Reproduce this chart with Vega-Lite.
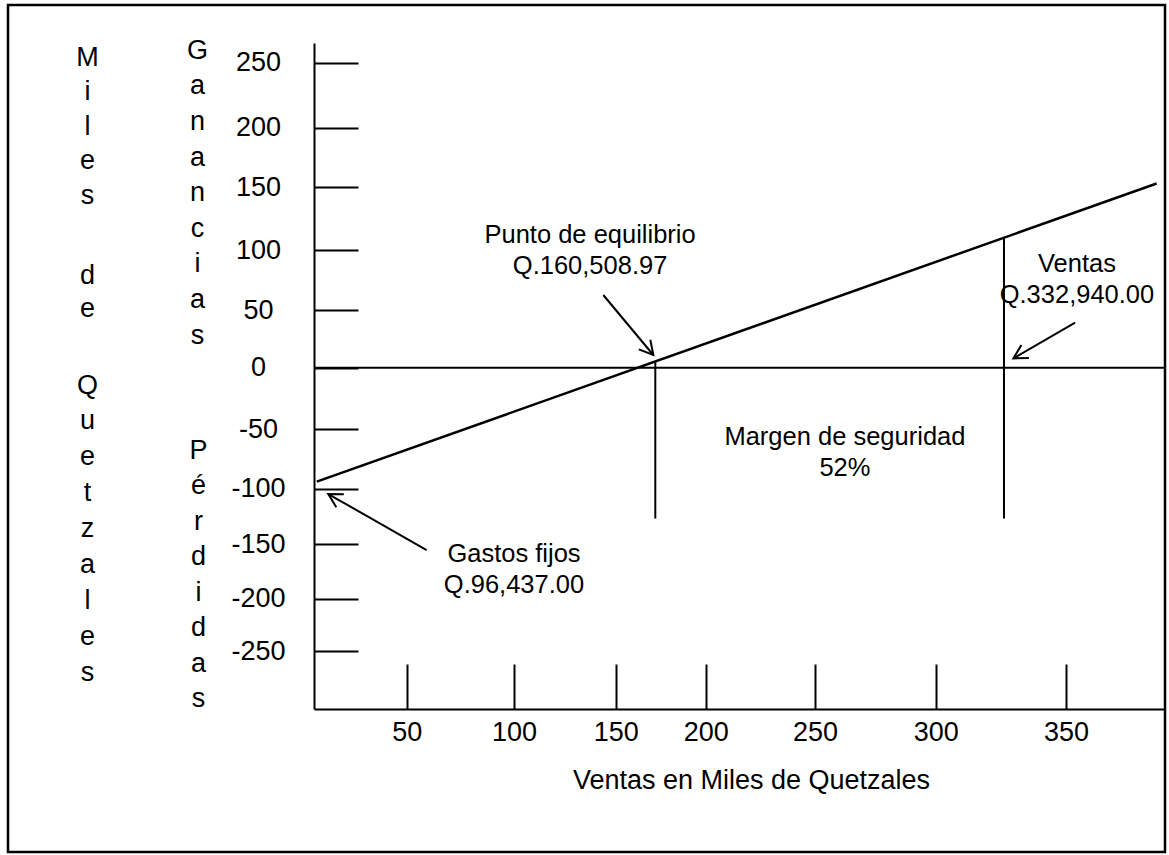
{
  "$schema": "https://vega.github.io/schema/vega-lite/v6.json",
  "width": 1157,
  "height": 847,
  "autosize": {"type": "none"},
  "padding": {"left": 8, "top": 5, "right": 4, "bottom": 3},
  "background": "white",
  "config": {
    "font": "Liberation Sans",
    "view": {"stroke": "black", "strokeWidth": 2.5},
    "axis": {"grid": false}
  },
  "datasets": {
    "recta": [
      {"ventas": 1.5, "resultado": -94.1},
      {"ventas": 384.8, "resultado": 153.2}
    ],
    "cero": [
      {"ventas": 0, "ventas_fin": 388, "resultado": 0}
    ],
    "verticales": [
      {"ventas": 172, "desde": 5.4, "hasta": -127},
      {"ventas": 326.2, "desde": 110, "hasta": -127}
    ],
    "flechas": [
      {"nota": "equilibrio", "x0": 143.9, "y0": 62.5, "x1": 170.9, "y1": 11.0},
      {"nota": "ventas", "x0": 353.5, "y0": 39.0, "x1": 329.8, "y1": 8.1},
      {"nota": "gastos", "x0": 59.3, "y0": -155.5, "x1": 7.7, "y1": -104.8}
    ],
    "notas": [
      {"texto": "Punto de equilibrio\nQ.160,508.97", "ventas": 137.4, "resultado": 105.3},
      {"texto": "Ventas\nQ.332,940.00", "ventas": 354.2, "resultado": 81.9},
      {"texto": "Margen de seguridad\n52%", "ventas": 262.4, "resultado": -63.4},
      {"texto": "Gastos fijos\nQ.96,437.00", "ventas": 100, "resultado": -166.2}
    ]
  },
  "resolve": {"axis": {"x": "independent", "y": "independent"}},
  "layer": [
    {
      "data": {"name": "recta"},
      "mark": {"type": "line", "color": "black", "strokeWidth": 2.5},
      "encoding": {
        "x": {
          "field": "ventas",
          "type": "quantitative",
          "scale": {
            "domain": [0, 50, 100, 150, 200, 250, 300, 350, 388],
            "range": [306, 398.7, 506, 607.7, 697.7, 807, 927.7, 1058, 1157],
            "zero": false,
            "nice": false
          },
          "axis": {
            "orient": "bottom",
            "offset": -143,
            "values": [50, 100, 150, 200, 250, 300, 350],
            "labelExpr": "'' + datum.value",
            "domainColor": "black",
            "domainWidth": 2,
            "tickColor": "black",
            "tickWidth": 2,
            "tickSize": -45,
            "labelFontSize": 27,
            "labelColor": "black",
            "labelPadding": 76,
            "labelBaseline": "alphabetic",
            "labelAlign": "center",
            "labelFlush": false,
            "labelOverlap": false,
            "labelBound": false,
            "title": "Ventas en Miles de Quetzales",
            "titleX": 743,
            "titleY": 79,
            "titleAlign": "center",
            "titleBaseline": "alphabetic",
            "titleFontSize": 27,
            "titleFontWeight": "normal",
            "titleColor": "black"
          }
        },
        "y": {
          "field": "resultado",
          "type": "quantitative",
          "scale": {
            "domain": [-305, -250, -200, -150, -100, -50, 0, 50, 100, 150, 200, 250, 265],
            "range": [704, 646, 593.7, 539, 483.7, 424, 362.7, 305, 245, 182.3, 122.7, 57.7, 38],
            "zero": false,
            "nice": false
          },
          "axis": {
            "orient": "left",
            "offset": -306,
            "values": [-250, -200, -150, -100, -50, 0, 50, 100, 150, 200, 250],
            "labelExpr": "'' + datum.value",
            "domainColor": "black",
            "domainWidth": 2,
            "tickColor": "black",
            "tickWidth": 2,
            "tickSize": -44,
            "labelFontSize": 27,
            "labelColor": "black",
            "labelPadding": 100,
            "labelAlign": "center",
            "labelBaseline": "middle",
            "labelFlush": false,
            "labelOverlap": false,
            "labelBound": false,
            "title": ["G", "a", "n", "a", "n", "c", "i", "a", "s"],
            "titleAngle": 0,
            "titleX": -117,
            "titleY": 53.3,
            "titleAlign": "center",
            "titleBaseline": "alphabetic",
            "titleFontSize": 27,
            "titleFontWeight": "normal",
            "titleColor": "black",
            "titleLineHeight": 35.6
          }
        }
      }
    },
    {
      "data": {"name": "cero"},
      "mark": {"type": "rule", "color": "black", "strokeWidth": 2},
      "encoding": {
        "x": {"field": "ventas", "type": "quantitative", "axis": null},
        "x2": {"field": "ventas_fin"},
        "y": {
          "field": "resultado",
          "type": "quantitative",
          "axis": {
            "orient": "left",
            "offset": -306,
            "domain": false,
            "ticks": false,
            "labels": false,
            "grid": false,
            "title": ["P", "é", "r", "d", "i", "d", "a", "s"],
            "titleAngle": 0,
            "titleX": -116,
            "titleY": 453.3,
            "titleAlign": "center",
            "titleBaseline": "alphabetic",
            "titleFontSize": 27,
            "titleFontWeight": "normal",
            "titleColor": "black",
            "titleLineHeight": 35.5
          }
        }
      }
    },
    {
      "data": {"name": "verticales"},
      "mark": {"type": "rule", "color": "black", "strokeWidth": 2},
      "encoding": {
        "x": {"field": "ventas", "type": "quantitative", "axis": null},
        "y": {
          "field": "desde",
          "type": "quantitative",
          "axis": {
            "orient": "left",
            "offset": -306,
            "domain": false,
            "ticks": false,
            "labels": false,
            "grid": false,
            "title": ["M", "i", "l", "e", "s"],
            "titleAngle": 0,
            "titleX": -227,
            "titleY": 60,
            "titleAlign": "center",
            "titleBaseline": "alphabetic",
            "titleFontSize": 27,
            "titleFontWeight": "normal",
            "titleColor": "black",
            "titleLineHeight": 34.6
          }
        },
        "y2": {"field": "hasta"}
      }
    },
    {
      "data": {"name": "flechas"},
      "resolve": {"axis": {"x": "independent", "y": "independent"}},
      "layer": [
        {
          "mark": {"type": "rule", "color": "black", "strokeWidth": 2},
          "encoding": {
            "x": {"field": "x0", "type": "quantitative", "axis": null},
            "y": {
              "field": "y0",
              "type": "quantitative",
              "axis": {
                "orient": "left",
                "offset": -306,
                "domain": false,
                "ticks": false,
                "labels": false,
                "grid": false,
                "title": ["Q", "u", "e", "t", "z", "a", "l", "e", "s"],
                "titleAngle": 0,
                "titleX": -227,
                "titleY": 388,
                "titleAlign": "center",
                "titleBaseline": "alphabetic",
                "titleFontSize": 27,
                "titleFontWeight": "normal",
                "titleColor": "black",
                "titleLineHeight": 35.9
              }
            },
            "x2": {"field": "x1"},
            "y2": {"field": "y1"}
          }
        },
        {
          "transform": [{"filter": "datum.nota === 'equilibrio'"}],
          "mark": {"type": "point", "shape": "M -0.55 1 L 0 0 L 0.55 1", "filled": false, "size": 740, "strokeWidth": 2, "color": "black", "opacity": 1, "angle": 140},
          "encoding": {
            "x": {"field": "x1", "type": "quantitative", "axis": null},
            "y": {"field": "y1", "type": "quantitative", "axis": null}
          }
        },
        {
          "transform": [{"filter": "datum.nota === 'ventas'"}],
          "mark": {"type": "point", "shape": "M -0.55 1 L 0 0 L 0.55 1", "filled": false, "size": 740, "strokeWidth": 2, "color": "black", "opacity": 1, "angle": 240},
          "encoding": {
            "x": {"field": "x1", "type": "quantitative", "axis": null},
            "y": {"field": "y1", "type": "quantitative", "axis": null}
          }
        },
        {
          "transform": [{"filter": "datum.nota === 'gastos'"}],
          "mark": {"type": "point", "shape": "M -0.55 1 L 0 0 L 0.55 1", "filled": false, "size": 740, "strokeWidth": 2, "color": "black", "opacity": 1, "angle": 300},
          "encoding": {
            "x": {"field": "x1", "type": "quantitative", "axis": null},
            "y": {"field": "y1", "type": "quantitative", "axis": null}
          }
        }
      ]
    },
    {
      "data": {"name": "notas"},
      "mark": {"type": "text", "font": "Liberation Sans", "fontSize": 25.5, "color": "black", "align": "center", "baseline": "alphabetic", "lineBreak": "\n", "lineHeight": 31},
      "encoding": {
        "x": {"field": "ventas", "type": "quantitative", "axis": null},
        "y": {
          "field": "resultado",
          "type": "quantitative",
          "axis": {
            "orient": "left",
            "offset": -306,
            "domain": false,
            "ticks": false,
            "labels": false,
            "grid": false,
            "title": ["d", "e"],
            "titleAngle": 0,
            "titleX": -227,
            "titleY": 278.3,
            "titleAlign": "center",
            "titleBaseline": "alphabetic",
            "titleFontSize": 27,
            "titleFontWeight": "normal",
            "titleColor": "black",
            "titleLineHeight": 33.4
          }
        },
        "text": {"field": "texto"}
      }
    }
  ]
}
